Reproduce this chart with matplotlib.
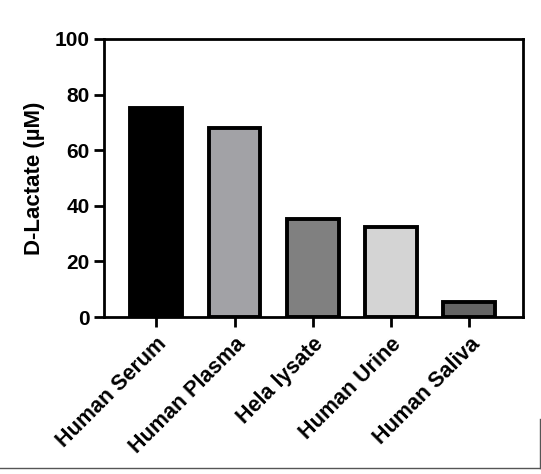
import numpy as np
import matplotlib.pyplot as plt
from matplotlib.lines import Line2D

plt.rcParams['font.family'] = ['Liberation Sans', 'DejaVu Sans']
plt.rcParams['font.weight'] = 'bold'

samples = ["Human Serum", "Human Plasma", "Hela lysate", "Human Urine", "Human Saliva"]
values = [75.3, 68, 35.3, 32.3, 5.6]
colors = ["#000000", "#a2a2a6", "#808080", "#d4d4d4", "#646464"]

fig = plt.figure(figsize=(5.41, 4.74), dpi=100)
ax = fig.add_axes([0.192, 0.331, 0.775, 0.587])

x = np.arange(len(samples))
ax.bar(x, values, width=0.66, color=colors, edgecolor="black", linewidth=2.8, zorder=2)

ax.set_xlim(-0.67, 4.69)
ax.set_ylim(0, 100)
ax.set_yticks([0, 20, 40, 60, 80, 100])
ax.set_xticks(x)
ax.set_xticklabels(samples, rotation=45, ha="right", rotation_mode="anchor", fontsize=15.5, fontweight="bold")
ax.tick_params(axis="y", labelsize=15, width=2, length=7, pad=3)
ax.tick_params(axis="x", width=2, length=7, pad=5)
for lbl in ax.get_yticklabels():
    lbl.set_fontweight("bold")
for s in ax.spines.values():
    s.set_linewidth(2)
ax.set_ylabel("D-Lactate (\u00b5M)", fontsize=16, fontweight="bold", labelpad=7)

# screenshot border remnants
fig.add_artist(Line2D([0, 0.998], [0.013, 0.013], transform=fig.transFigure, color="#555555", lw=1))
fig.add_artist(Line2D([0.998, 0.998], [0.013, 0.115], transform=fig.transFigure, color="#555555", lw=1))

fig.savefig("out.png", dpi=100)
